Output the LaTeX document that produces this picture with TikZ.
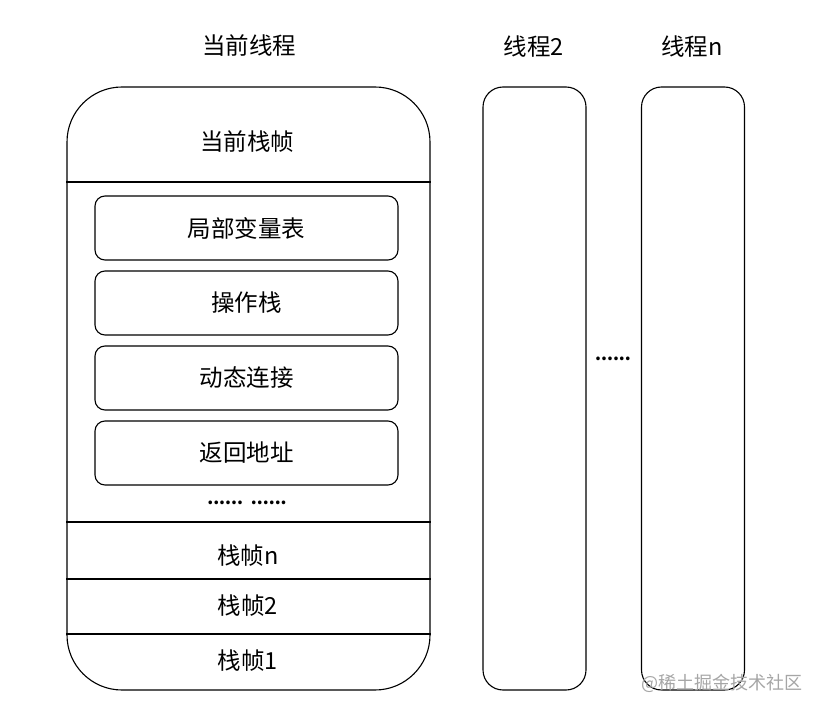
\documentclass[tikz,border=0pt]{standalone}
\usepackage{fontspec}
\setmainfont{Noto Sans CJK SC}
\begin{document}
\begin{tikzpicture}[x=1pt,y=-1pt,
  lw/.style={line width=1.1pt},
  bigbox/.style={lw,draw,rounded corners=55pt,minimum width=363pt,minimum height=603pt,inner sep=0pt},
  thread/.style={lw,draw,rounded corners=20pt,minimum width=103pt,minimum height=603pt,inner sep=0pt},
  inner/.style={lw,draw,rounded corners=10pt,minimum width=303pt,minimum height=64pt,inner sep=0pt,font=\fontsize{23.5}{27}\selectfont},
  lbl/.style={font=\fontsize{23.5}{27}\selectfont,inner sep=0pt},
  dots/.style={font=\fontsize{17}{19}\selectfont\bfseries,inner sep=0pt},
  divider/.style={lw}
]
\useasboundingbox (0,0) rectangle (819,711);
\fill[white] (0,0) rectangle (819,711);
% titles
\node[lbl] (t1) at (249,46) {当前线程};
\node[lbl] (t2) at (534,47) {线程2};
\node[lbl] (tn) at (692,47) {线程n};
% main box
\node[bigbox] (main) at (248.5,388.5) {};
\node[thread] (th2) at (534.5,388.5) {};
\node[thread] (thn) at (693,388.5) {};
% current frame
\node[lbl] (cur) at (247,142) {当前栈帧};
\coordinate (d1) at (0,182);
\draw[divider] (main.west |- d1) -- (main.east |- d1);
\node[inner] (b1) at (246.5,228) {局部变量表};
\node[inner] (b2) at (246.5,303) {操作栈};
\node[inner] (b3) at (246.5,378) {动态连接};
\node[inner] (b4) at (246.5,453) {返回地址};
\node[dots] (dd) at (247,503) {......\ \ ......};
\coordinate (d2) at (0,522);
\coordinate (d3) at (0,579);
\coordinate (d4) at (0,634);
\draw[divider] (main.west |- d2) -- (main.east |- d2);
\draw[divider] (main.west |- d3) -- (main.east |- d3);
\draw[divider] (main.west |- d4) -- (main.east |- d4);
\node[lbl] (fn) at (248,556) {栈帧n};
\node[lbl] (f2) at (248,606) {栈帧2};
\node[lbl] (f1) at (248,661) {栈帧1};
\node[dots] (mid) at (613,359) {......};
\node[font=\fontsize{18}{20}\selectfont,text=black!35,inner sep=0pt] (wm) at (722,683) {@稀土掘金技术社区};
\end{tikzpicture}
\end{document}
